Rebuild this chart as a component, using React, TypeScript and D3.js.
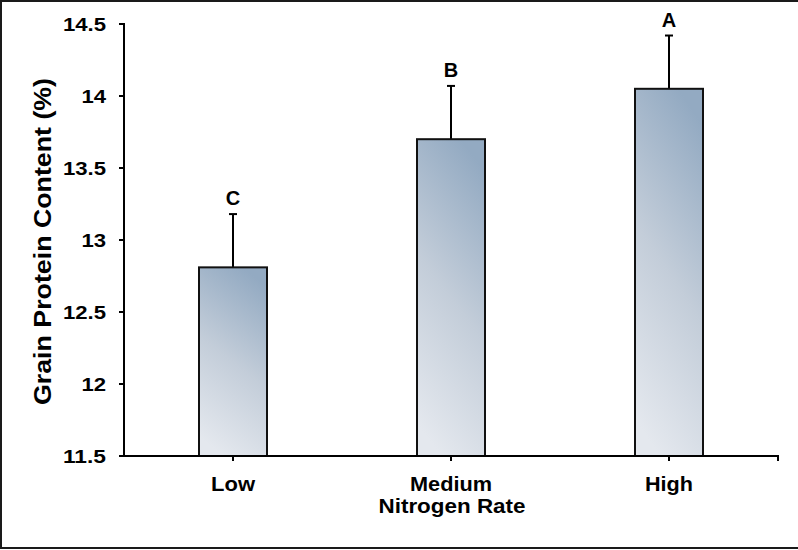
import React from "react";
import * as d3 from "d3";

const categories = ["Low", "Medium", "High"];
const meanValues = [12.81, 13.7, 14.05];
const errorValues = [0.37, 0.37, 0.37];
const groupLetters = ["C", "B", "A"];
const yTicks = [11.5, 12, 12.5, 13, 13.5, 14, 14.5];
const yTickLabels = ["11.5", "12", "12.5", "13", "13.5", "14", "14.5"];

const W = 798;
const H = 550;
const m = { left: 124, right: 778, top: 24, bottom: 456 };
const FONT = "'Liberation Sans', Arial, sans-serif";

export default function App() {
  const x = d3.scaleBand<string>().domain(categories).range([m.left, m.right]).paddingInner(0).paddingOuter(0);
  const y = d3.scaleLinear().domain([11.5, 14.5]).range([m.bottom, m.top]);
  const barW = 68;
  const capW = 8;
  const tickW = (s: string) => s.split("").reduce((a, c) => a + (c === "." ? 6.2 : 12.3), 0);
  const catW: Record<string, number> = { Low: 44, Medium: 82, High: 48 };

  return (
    <svg width={W} height={H} style={{ position: "absolute", left: 0, top: 0, background: "#fff" }} fontFamily={FONT}>
      <defs>
        <linearGradient id="barGrad" x1="0.36" y1="1" x2="0.64" y2="0">
          <stop offset="0" stopColor="#e4e8ee" />
          <stop offset="0.5" stopColor="#c3cdd9" />
          <stop offset="1" stopColor="#93aac2" />
        </linearGradient>
      </defs>
      <rect x={1} y={1} width={W + 10} height={547} fill="none" stroke="#1a1a1a" strokeWidth={2} />

      {categories.map((c, i) => {
        const cx = (x(c) as number) + x.bandwidth() / 2;
        const top = y(meanValues[i]);
        const eTop = y(meanValues[i] + errorValues[i]);
        return (
          <g key={c}>
            <line x1={cx} x2={cx} y1={top} y2={eTop} stroke="#000" strokeWidth={2} />
            <line x1={cx - capW / 2} x2={cx + capW / 2} y1={eTop} y2={eTop} stroke="#000" strokeWidth={2} />
            <rect x={cx - barW / 2} y={top} width={barW} height={m.bottom - top} fill="url(#barGrad)" stroke="#111" strokeWidth={2} />
            <text x={cx} y={eTop - 9} textAnchor="middle" fontWeight="bold" fontSize={20} fill="#000">
              {groupLetters[i]}
            </text>
          </g>
        );
      })}

      {/* y axis */}
      <line x1={m.left} x2={m.left} y1={m.top - 1} y2={m.bottom + 1} stroke="#000" strokeWidth={2} />
      {yTicks.map((t, i) => (
        <g key={t}>
          <line x1={m.left - 5} x2={m.left} y1={y(t)} y2={y(t)} stroke="#000" strokeWidth={2} />
          <text
            x={106}
            y={y(t) + 7}
            textAnchor="end"
            fontWeight="bold"
            fontSize={19}
            textLength={tickW(yTickLabels[i])}
            lengthAdjust="spacingAndGlyphs"
            fill="#000"
          >
            {yTickLabels[i]}
          </text>
        </g>
      ))}

      {/* x axis */}
      <line x1={m.left - 5} x2={m.right + 1} y1={m.bottom} y2={m.bottom} stroke="#000" strokeWidth={2} />
      <line x1={m.right} x2={m.right} y1={m.bottom} y2={m.bottom + 5} stroke="#000" strokeWidth={2} />
      {categories.map((c) => {
        const cx = (x(c) as number) + x.bandwidth() / 2;
        return (
          <g key={c}>
            <line x1={cx} x2={cx} y1={m.bottom} y2={m.bottom + 5} stroke="#000" strokeWidth={2} />
            <text
              x={cx - catW[c] / 2}
              y={491}
              fontWeight="bold"
              fontSize={20}
              textLength={catW[c]}
              lengthAdjust="spacingAndGlyphs"
              fill="#000"
            >
              {c}
            </text>
          </g>
        );
      })}

      <text x={452 - 73.5} y={513} fontWeight="bold" fontSize={21} textLength={147} lengthAdjust="spacingAndGlyphs" fill="#000">
        Nitrogen Rate
      </text>
      <text
        transform={`translate(51, ${241.5 + 163.5}) rotate(-90)`}
        x={0}
        y={0}
        fontWeight="bold"
        fontSize={23}
        textLength={327}
        lengthAdjust="spacingAndGlyphs"
        fill="#000"
      >
        Grain Protein Content (%)
      </text>
    </svg>
  );
}
